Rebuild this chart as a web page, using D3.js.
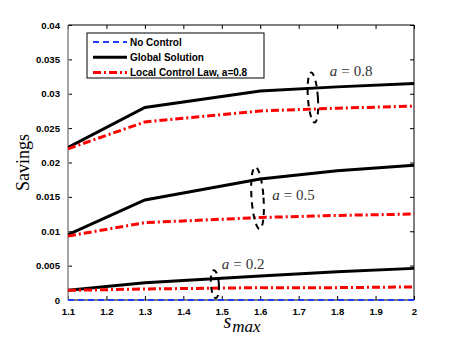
<!DOCTYPE html>
<meta charset="utf-8">
<style>
body { margin: 0; background: #fff; }
.tick text { font: bold 9.6px "Liberation Sans", Arial, sans-serif; fill: #000; }
.legend text { font: bold 10px "Liberation Sans", Arial, sans-serif; }
.ann { font: 15px "Liberation Serif", serif; fill: #333; }
</style>
<body>
<script src="https://cdn.jsdelivr.net/npm/d3@7"></script>
<script>

var smax = [1.1, 1.3, 1.6, 1.8, 2.0];
var noControl = [0, 0, 0, 0, 0];
var global08 = [0.0222, 0.0280, 0.0304, 0.0310, 0.0315];
var local08  = [0.0220, 0.0259, 0.0275, 0.0279, 0.0282];
var global05 = [0.0095, 0.01455, 0.0176, 0.0188, 0.0196];
var local05  = [0.0093, 0.01125, 0.0120, 0.0123, 0.0125];
var global02 = [0.0014, 0.0025, 0.0035, 0.0041, 0.0046];
var local02  = [0.0014, 0.0016, 0.0018, 0.0018, 0.0019];
var xTicks = [1.1, 1.2, 1.3, 1.4, 1.5, 1.6, 1.7, 1.8, 1.9, 2];
var yTicks = [0, 0.005, 0.01, 0.015, 0.02, 0.025, 0.03, 0.035, 0.04];
var legendLabels = ["No Control", "Global Solution", "Local Control Law, a=0.8"];
var annValues = ["0.8", "0.5", "0.2"];

var width = 457, height = 339;
var mLeft = 68, mRight = 414, mTop = 25, mBottom = 300;

var x = d3.scaleLinear().domain([1.1, 2]).range([mLeft, mRight]);
var y = d3.scaleLinear().domain([0, 0.04]).range([mBottom, mTop]);

var svg = d3.select("body").append("svg")
    .attr("width", width)
    .attr("height", height);

svg.append("clipPath").attr("id", "clip")
  .append("rect").attr("x", mLeft).attr("y", mTop - 2)
    .attr("width", mRight - mLeft + 2).attr("height", mBottom - mTop + 4);

// axes, ticks pointing inward
var fmt = function(d) { return d === 0 ? "0" : String(+d.toFixed(3)); };

svg.append("g")
    .attr("transform", "translate(0," + mBottom + ")")
    .call(d3.axisBottom(x).tickValues(xTicks).tickSize(-4).tickPadding(8).tickFormat(fmt))
    .call(function(g) { g.select(".domain").remove(); });

svg.append("g")
    .attr("transform", "translate(" + mLeft + ",0)")
    .call(d3.axisLeft(y).tickValues(yTicks).tickSize(-4).tickPadding(8).tickFormat(fmt))
    .call(function(g) { g.select(".domain").remove(); });

svg.append("g")
    .attr("transform", "translate(0," + mTop + ")")
    .call(d3.axisTop(x).tickValues(xTicks).tickSize(-4).tickFormat(""))
    .call(function(g) { g.select(".domain").remove(); });

svg.append("g")
    .attr("transform", "translate(" + mRight + ",0)")
    .call(d3.axisRight(y).tickValues(yTicks).tickSize(-4).tickFormat(""))
    .call(function(g) { g.select(".domain").remove(); });

svg.append("path")
    .attr("d", "M" + mLeft + "," + mBottom + "H" + mRight + "V" + mTop + "H" + mLeft)
    .attr("fill", "none").attr("stroke", "#000").attr("stroke-width", 1);
svg.append("line")
    .attr("x1", mLeft).attr("x2", mLeft).attr("y1", mTop).attr("y2", mBottom)
    .attr("stroke", "#888").attr("stroke-width", 1.5);

var line = d3.line()
    .x(function(d, i) { return x(smax[i]); })
    .y(function(d) { return y(d); });

var plot = svg.append("g").attr("clip-path", "url(#clip)");

var styles = {
  none: { stroke: "#1f3cff", width: 2.2, dash: "6,4" },
  global: { stroke: "#000", width: 3, dash: null },
  local: { stroke: "#f00", width: 3, dash: "8,3,2,3" }
};

var series = [
  [global08, "global"], [local08, "local"],
  [global05, "global"], [local05, "local"],
  [global02, "global"], [local02, "local"],
  [noControl, "none"]
];

series.forEach(function(s) {
  var st = styles[s[1]];
  plot.append("path")
      .attr("d", line(s[0]))
      .attr("fill", "none")
      .attr("stroke", st.stroke)
      .attr("stroke-width", st.width)
      .attr("stroke-dasharray", st.dash);
});

// dashed ellipses marking each pair
var rings = [
  { cx: 1.737, cy: 0.02945, rx: 5, ry: 25, v: annValues[0], lx: 1.781, ly: 0.0326 },
  { cx: 1.593, cy: 0.01484, rx: 6, ry: 31, v: annValues[1], lx: 1.631, ly: 0.01455 },
  { cx: 1.482, cy: 0.0023, rx: 4, ry: 14, v: annValues[2], lx: 1.50, ly: 0.0045 }
];

rings.forEach(function(r) {
  svg.append("ellipse")
      .attr("cx", x(r.cx)).attr("cy", y(r.cy))
      .attr("rx", r.rx).attr("ry", r.ry)
      .attr("transform", "rotate(-4," + x(r.cx) + "," + y(r.cy) + ")")
      .attr("fill", "none").attr("stroke", "#000")
      .attr("stroke-width", 2).attr("stroke-dasharray", "6,5");
  var t = svg.append("text").attr("class", "ann")
      .attr("x", x(r.lx)).attr("y", y(r.ly));
  t.append("tspan").style("font-style", "italic").text("a");
  t.append("tspan").attr("dx", 4).text("=");
  t.append("tspan").attr("dx", 4).text(r.v);
});

// legend
var lg = svg.append("g").attr("class", "legend");
lg.append("rect")
    .attr("x", 87).attr("y", 33).attr("width", 177).attr("height", 45)
    .attr("fill", "#fff").attr("stroke", "#000").attr("stroke-width", 1);
["none", "global", "local"].forEach(function(k, i) {
  var st = styles[k], yy = 42 + i * 15.3;
  lg.append("line")
      .attr("x1", 93).attr("x2", 127).attr("y1", yy).attr("y2", yy)
      .attr("stroke", st.stroke).attr("stroke-width", st.width)
      .attr("stroke-dasharray", st.dash);
  lg.append("text")
      .attr("x", 130).attr("y", yy).attr("dy", "0.35em")
      .text(legendLabels[i]);
});

// axis labels
svg.append("text")
    .attr("transform", "translate(29," + ((mTop + mBottom) / 2) + ") rotate(-90)")
    .attr("text-anchor", "middle")
    .style("font", "18px 'Liberation Serif', serif")
    .text("Savings");

var xl = svg.append("text")
    .attr("x", 242).attr("y", 328)
    .attr("text-anchor", "middle")
    .style("font", "italic 20px 'Liberation Serif', serif");
xl.append("tspan").text("s");
xl.append("tspan").attr("dy", 4).attr("dx", 1).style("font-size", "17px").text("max");

</script>
</body>
